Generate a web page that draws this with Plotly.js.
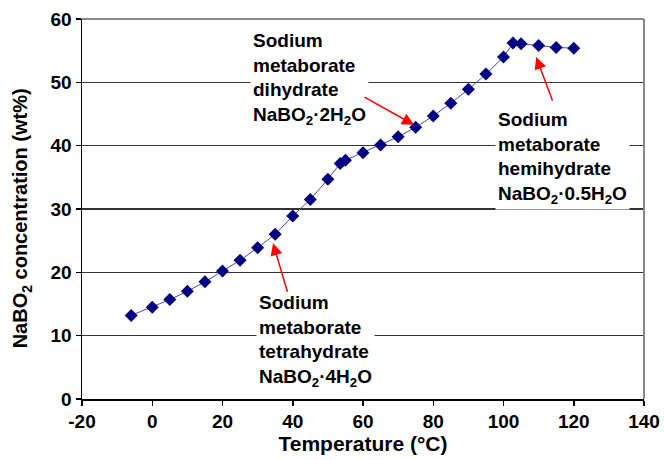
<!DOCTYPE html>
<html>
<head>
<meta charset="utf-8">
<script src="https://cdn.plot.ly/plotly-3.0.1.min.js"></script>
<style>html,body{margin:0;padding:0;background:#fff;}#chart{width:664px;height:460px;}</style>
</head>
<body>
<div id="chart"></div>
<script>
var temperature = [-6, 0, 5, 10, 15, 20, 25, 30, 35, 40, 45, 50, 53.5, 55, 60, 65, 70, 75, 80, 85, 90, 95, 100, 102.7, 105, 110, 115, 120];
var concentration = [13.2, 14.5, 15.7, 17.0, 18.5, 20.2, 21.9, 23.9, 26.0, 28.9, 31.5, 34.7, 37.2, 37.7, 38.9, 40.1, 41.4, 42.9, 44.7, 46.7, 48.9, 51.3, 54.0, 56.2, 56.1, 55.8, 55.5, 55.4];

var xTickVals = [-20, 0, 20, 40, 60, 80, 100, 120, 140];
var xTickText = ['-20', '0', '20', '40', '60', '80', '100', '120', '140'];

var xTitle = 'Temperature (°C)';
var yTitle = 'NaBO<sub>2</sub> concentration (wt%)';

var labelTexts = [
  "Sodium<br>metaborate<br>dihydrate<br>NaBO<sub>2</sub>·2H<sub>2</sub>O",
  "Sodium<br>metaborate<br>tetrahydrate<br>NaBO<sub>2</sub>·4H<sub>2</sub>O",
  "Sodium<br>metaborate<br>hemihydrate<br>NaBO<sub>2</sub>·0.5H<sub>2</sub>O"
];
var labelX = [27.8, 29.5, 97.5];
var labelY = [50.5, 9.2, 38.0];
var arrowTipX = [74.5, 34.4, 109.3];
var arrowTipY = [43.3, 24.6, 54.0];
var arrowTailX = [60.0, 38.6, 114.1];
var arrowTailY = [47.8, 16.7, 46.9];

var font = "Liberation Sans, Arial, sans-serif";

var annotations = [];
for (var i = 0; i < labelTexts.length; i++) {
  annotations.push({
    x: labelX[i], y: labelY[i], xref: 'x', yref: 'y',
    text: labelTexts[i], showarrow: false,
    xanchor: 'left', yanchor: 'middle', align: 'left',
    bgcolor: '#ffffff', borderpad: 2,
    font: {family: font, size: 19, color: '#000', weight: 'bold'}
  });
  annotations.push({
    x: arrowTipX[i], y: arrowTipY[i], xref: 'x', yref: 'y',
    ax: arrowTailX[i], ay: arrowTailY[i], axref: 'x', ayref: 'y',
    text: '', showarrow: true, arrowhead: 2, arrowsize: 1.6, arrowwidth: 1.5,
    arrowcolor: '#ff0000', standoff: 0
  });
}
annotations.push({
  x: -0.107, y: 0.475, xref: 'paper', yref: 'paper',
  text: yTitle, showarrow: false, textangle: -90,
  xanchor: 'center', yanchor: 'middle',
  font: {family: font, size: 20, color: '#000', weight: 'bold'}
});

var trace = {
  x: temperature, y: concentration, type: 'scatter', mode: 'lines+markers',
  line: {color: '#4848a8', width: 1},
  marker: {symbol: 'diamond', size: 10, color: '#000080'},
  hoverinfo: 'none'
};

var layout = {
  width: 664, height: 460,
  margin: {l: 82, r: 20, t: 19, b: 61},
  paper_bgcolor: '#fff', plot_bgcolor: '#fff',
  showlegend: false,
  xaxis: {
    range: [-20, 140], tickmode: 'array', tickvals: xTickVals, ticktext: xTickText,
    showgrid: false, zeroline: false,
    showline: true, linecolor: '#000', linewidth: 1.5,
    ticks: 'outside', ticklen: 5, tickcolor: '#000', tickwidth: 1.5,
    tickfont: {family: font, size: 19, color: '#000', weight: 'bold'},
    title: {text: xTitle, font: {family: font, size: 21, color: '#000', weight: 'bold'}, standoff: 3}
  },
  yaxis: {
    range: [0, 60], dtick: 10,
    showgrid: true, gridcolor: '#333', gridwidth: 1.5, zeroline: false,
    showline: true, linecolor: '#000', linewidth: 1.5,
    ticks: 'outside', ticklen: 5, tickcolor: '#000', tickwidth: 1.5,
    tickfont: {family: font, size: 19, color: '#000', weight: 'bold'}
  },
  shapes: [
    {type: 'line', xref: 'paper', yref: 'paper', x0: 0, x1: 1, y0: 1, y1: 1, line: {color: '#888', width: 2}},
    {type: 'line', xref: 'paper', yref: 'paper', x0: 1, x1: 1, y0: 0, y1: 1, line: {color: '#888', width: 2}}
  ],
  annotations: annotations
};

Plotly.newPlot('chart', [trace], layout, {displayModeBar: false, staticPlot: true});
</script>
</body>
</html>
